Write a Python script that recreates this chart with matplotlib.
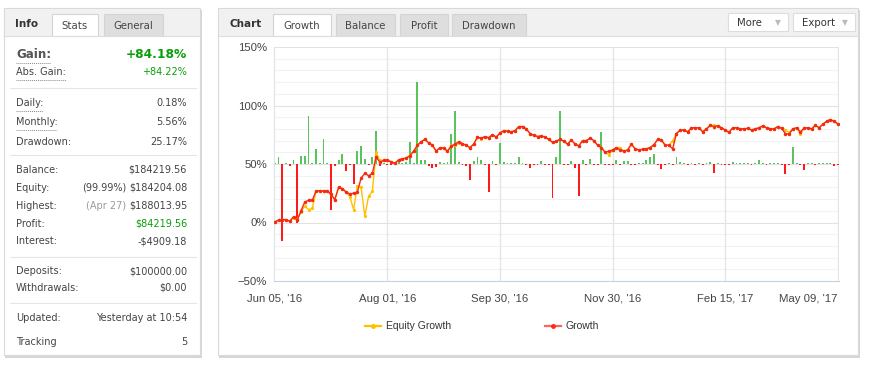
import matplotlib
matplotlib.use("Agg")
import matplotlib.pyplot as plt
from matplotlib.patches import Rectangle

# ---- data ----
x_labels = ["Jun 05, '16", "Aug 01, '16", "Sep 30, '16", "Nov 30, '16", "Feb 15, '17", "May 09, '17"]
x_label_pos = [0, 30, 60, 90, 120, 150]

growth = [0.5, 2, 2.5, 2.5, 1, 5, 2, 10, 17.5, 19, 19, 27, 27, 27, 27, 24, 19.5, 30, 29, 26,
          24.5, 25, 26, 38, 42, 40, 42, 56, 51.5, 53, 53, 52, 50.5, 53.5, 54.5, 55, 57, 61, 66, 69,
          71, 68, 66, 61, 64, 63.5, 61, 65, 67, 69, 67.5, 66, 64, 67, 73, 72, 73.5, 72.5, 75, 73,
          76.5, 78.5, 78, 77.5, 78.5, 82, 82, 80, 76, 74.5, 73.5, 74, 73, 71, 68.5, 69.5, 71, 69.5, 67, 70.5,
          67, 65.5, 70, 70, 72, 70, 66, 64, 60, 61, 62, 64, 62, 61, 62, 67, 63, 62, 62.5, 63,
          64, 66.5, 71, 70.5, 66, 66, 63, 76, 79, 79, 77.5, 81, 81, 81, 77.5, 80, 83, 82, 82.5, 81,
          79, 77, 81, 81, 80, 80, 80.5, 79, 80, 81, 82.5, 81, 80, 80, 82, 80.5, 76, 75.5, 80, 81,
          77.5, 80.5, 81, 80, 83, 81, 84, 86.5, 88, 86.5, 84.2]

equity = [0.5, 2, 2.5, 2.5, 1, 4, 3, 9, 14, 11, 12, 27, 27, 27, 27, 24, 19.5, 30, 29, 26,
          22, 11, 31, 30, 5.5, 22.5, 26.5, 60, 53, 53, 53, 52, 50.5, 53.5, 54.5, 55, 57.5, 61, 66, 69,
          71, 68, 66, 61, 64, 63.5, 61, 66, 66, 68, 67.5, 66, 64, 67, 73, 71.5, 73, 72.5, 75, 73,
          76.5, 78.5, 78, 77.5, 78.5, 82, 82, 80, 76, 74.5, 73.5, 74, 73, 71, 68.5, 69.5, 71, 69.5, 67, 70.5,
          67, 65.5, 70, 70, 72, 70, 66, 64, 60, 58, 62, 64, 64, 61, 62, 67, 63, 62, 62.5, 63,
          64, 66.5, 71, 70.5, 66, 66, 70, 76, 79, 79, 77.5, 81, 81, 81, 77.5, 80, 83, 83, 82.5, 81,
          79, 77, 81, 81, 80, 80, 80.5, 79, 80, 81, 82.5, 81, 80, 80, 82, 80.5, 79, 77, 80, 81,
          76, 80.5, 81, 80, 83, 81, 84, 86.5, 88, 86.5, 84.2]

# daily gain bars, drawn from the 50% line
daily = [0.8, 5.7, -65.5, 1, -1.5, 3, -50, 7, 7, 41, 0.8, 12.8, 1, 21.4, 0.8, -39, -1.5, 3.4, 8.5, -5.7,
         -1, -17, 11.4, 15, 4, -1, 6, 28.5, -2, 1, -0.8, -0.8, 1, 1.5, 0.8, 2, 18.5, 0.8, 70, 3.4,
         3.4, -1.5, -3, -2.5, 2, 0.8, 1.5, 25.6, 45, 2, -0.8, -1.5, -13.7, 2.8, 6, 3, -0.8, -23.7, 2.3, -1,
         17.7, 2, 0.8, 0.8, 0.8, 6, 0.8, -0.8, -3.4, -0.8, -0.8, 2.3, -0.8, -0.8, -29, 5.7, 45.6, -0.8, -0.8, 2.3,
         -3, -27.4, 3.4, -0.8, 4.3, -0.8, -0.8, 27, -0.8, -0.8, -0.8, 3.7, -0.8, 2.5, 2.5, -0.8, -0.8, 0.8, 0.8, 3,
         5.7, 8.5, -0.8, -4, -0.8, 0.8, -0.8, 5.7, 2, 0.8, -0.8, 0.8, -0.8, 0.8, -0.8, 0.8, 2, -7.7, 0.8, -0.8,
         -0.8, -0.8, 2, 0.8, 0.8, 0.8, 0.8, -0.8, 0.8, 3, 0.8, -0.8, 0.8, 0.8, 0.8, -0.8, -8.5, -0.8, 14.2, 0.8,
         -0.8, -5, 0.8, 0.8, -0.8, 0.8, 0.8, 0.8, 0.8, -2, -0.8]

stats_rows = [
    ("Daily:", "0.18%"), ("Monthly:", "5.56%"), ("Drawdown:", "25.17%"),
]

W, H = 869, 367
TXT = "#444444"
GREEN_TXT = "#0a9e0a"

fig = plt.figure(figsize=(W / 100, H / 100), dpi=100)
bg = fig.add_axes([0, 0, 1, 1])
bg.set_xlim(0, W)
bg.set_ylim(H, 0)
bg.axis("off")


def panel(x0, y0, x1, y1):
    # soft shadow then the white box
    bg.add_patch(Rectangle((x0 + 1, y0 + 2), x1 - x0 + 1, y1 - y0 + 1, fc="#d6d6d6", ec="none"))
    bg.add_patch(Rectangle((x0, y0), x1 - x0, y1 - y0, fc="white", ec="#d9d9d9", lw=0.8))
    bg.add_patch(Rectangle((x0 + 0.5, y0 + 0.5), x1 - x0 - 1, 27, fc="#f1f1f1", ec="none"))
    bg.plot([x0, x1], [y0 + 27.5, y0 + 27.5], color="#dddddd", lw=0.8)


def tab(x0, x1, label, active, y0=14, y1=35.5):
    bg.add_patch(Rectangle((x0, y0), x1 - x0, y1 - y0, fc="white" if active else "#dedede",
                           ec="#d4d4d4", lw=0.8))
    bg.text((x0 + x1) / 2, (y0 + y1) / 2 + 1, label, ha="center", va="center",
            fontsize=7.3, color="#444444")


# ---- left info panel ----
panel(4, 8, 200, 355)
bg.text(15, 24, "Info", fontsize=7.5, fontweight="bold", color="#333333", va="center")
tab(52, 98, "Stats", True)
tab(104, 163, "General", False)

LX, RX = 16, 187
FS = 7.0


def row(y, label, value, vcolor=TXT, underline=None):
    bg.text(LX, y, label, fontsize=FS, color=TXT, va="center")
    bg.text(RX, y, value, fontsize=FS, color=vcolor, va="center", ha="right")
    if underline:
        bg.plot([LX, underline], [y + 8, y + 8], color="#888888", lw=0.7, ls=(0, (1, 1)))


bg.text(LX, 54, "Gain:", fontsize=8.6, fontweight="bold", color="#555555", va="center")
bg.plot([LX, 51], [63, 63], color="#888888", lw=0.7, ls=(0, (1, 1)))
bg.text(RX, 54, "+84.18%", fontsize=8.8, fontweight="bold", color=GREEN_TXT, va="center", ha="right")
row(72, "Abs. Gain:", "+84.22%", GREEN_TXT, underline=66)
bg.plot([10, 196], [88, 88], color="#e6e6e6", lw=0.8)
for (lab, val), y, ul in zip(stats_rows, [103, 122, 142], [43, 57, None]):
    row(y, lab, val, underline=ul)
bg.plot([10, 196], [155, 155], color="#e6e6e6", lw=0.8)
row(170, "Balance:", "$184219.56")
row(188, "Equity:", "$184204.08")
bg.text(126, 188, "(99.99%)", fontsize=FS, color=TXT, va="center", ha="right")
row(206, "Highest:", "$188013.95")
bg.text(126, 206, "(Apr 27)", fontsize=FS, color="#999999", va="center", ha="right")
row(224, "Profit:", "$84219.56", GREEN_TXT)
row(241, "Interest:", "-$4909.18")
bg.plot([10, 196], [257, 257], color="#e6e6e6", lw=0.8)
row(271, "Deposits:", "$100000.00")
row(288, "Withdrawals:", "$0.00")
bg.plot([10, 196], [303, 303], color="#e6e6e6", lw=0.8)
row(318, "Updated:", "Yesterday at 10:54")
row(342, "Tracking", "5")

# ---- right chart panel ----
panel(218, 8, 858, 355)
bg.text(229, 24, "Chart", fontsize=7.5, fontweight="bold", color="#333333", va="center")
tab(273, 331, "Growth", True)
tab(336, 395, "Balance", False)
tab(400, 448, "Profit", False)
tab(452, 526, "Drawdown", False)
for x0, x1, lab in [(728, 788, "More"), (793, 855, "Export")]:
    bg.add_patch(Rectangle((x0, 13), x1 - x0, 18, fc="white", ec="#dddddd", lw=0.8))
    bg.text(x0 + 9, 22.5, lab, fontsize=7.3, color="#333333", va="center")
    bg.text(x1 - 10, 22.5, "\u25bc", fontsize=5.5, color="#bbbbbb", va="center", ha="center")

# legend
bg.plot([365, 381], [326, 326], color="#ffc000", lw=1.6)
bg.plot([373], [326], "o", color="#ffc000", ms=2.5)
bg.text(386, 326, "Equity Growth", fontsize=7.5, color="#333333", va="center",
        family="Liberation Sans")
bg.plot([545, 561], [326, 326], color="#f46b5e", lw=1.6)
bg.plot([553], [326], "o", color="#ff2a1a", ms=2.5)
bg.text(566, 326, "Growth", fontsize=7.5, color="#333333", va="center", family="Liberation Sans")

# ---- growth chart ----
ax = fig.add_axes([274 / W, 1 - 281 / H, (839 - 274) / W, (281 - 47) / H])
idx = list(range(len(growth)))
ax.set_xlim(-0.2, 150.3)
ax.set_ylim(-50, 150)
for v in range(-40, 150, 10):
    ax.axhline(v, color="#e2e2e2" if v % 50 == 0 else "#f2f2f2", lw=0.8, zorder=0)
ax.axhline(150, color="#e2e2e2", lw=0.8, zorder=0)
for p in x_label_pos[1:]:
    ax.axvline(p, color="#e4e4e4", lw=0.9, zorder=0)

bar_colors = ["#5bc35b" if d > 0 else "#ff1a1a" for d in daily]
ax.bar(idx, daily, bottom=50, width=0.5, color=bar_colors, zorder=2)
ax.plot(idx, equity, color="#ffc000", lw=1.0, marker="o", ms=2.3, mew=0, zorder=3)
ax.plot(idx, growth, color="#f42a14", lw=1.0, marker="o", ms=2.5, mew=0, zorder=4)

ax.set_yticks([-50, 0, 50, 100, 150])
ax.set_yticklabels(["\u221250%", "0%", "50%", "100%", "150%"])
ax.set_xticks(x_label_pos)
ax.set_xticklabels(x_labels)
ax.tick_params(length=0, labelsize=8.2, colors="#444444", pad=5)
ax.tick_params(axis="x", pad=9)
for lab in ax.get_xticklabels() + ax.get_yticklabels():
    lab.set_family("Liberation Sans")
ax.get_xticklabels()[-1].set_horizontalalignment("right")
for s in ["top", "right"]:
    ax.spines[s].set_visible(False)
ax.spines["left"].set_color("#dde3ec")
ax.spines["bottom"].set_color("#c5d0e0")
ax.patch.set_alpha(0)

fig.savefig("out.png", dpi=100)
